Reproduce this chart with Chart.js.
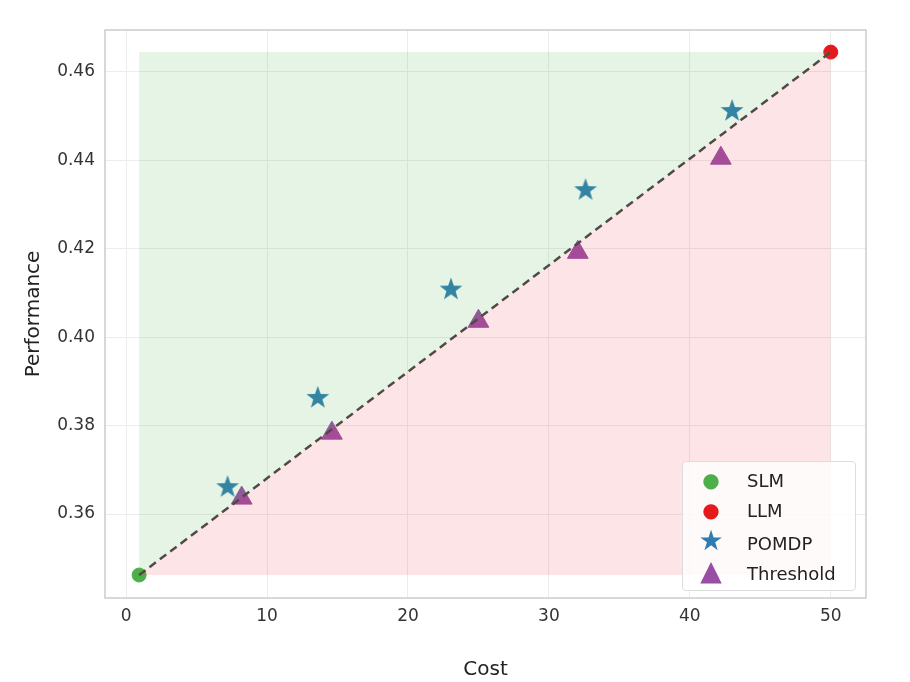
<!DOCTYPE html>
<html><head><meta charset="utf-8">
<script src="https://cdn.jsdelivr.net/npm/chart.js@4/dist/chart.umd.min.js"></script>
<style>
body{margin:0;background:#fff;font-family:"DejaVu Sans",sans-serif}
#wrap{position:relative;width:910px;height:682px}
#legend{position:absolute;left:682px;top:461px;width:172px;height:125px;border:1px solid #ddd;border-radius:4px;background:rgba(255,255,255,0.8);font-size:18px;color:#222}
#legend div{height:29px;line-height:29px;padding-left:10px;margin-top:1px}
#legend span{display:inline-block;width:36px;text-align:center;margin-right:18px}
</style></head><body>
<div id="wrap"><canvas id="c" width="910" height="682"></canvas>
<div id="legend" style="padding-top:3px">
<div><span style="color:#4daf4a;font-size:20px">●</span>SLM</div>
<div><span style="color:#e41a1c;font-size:20px">●</span>LLM</div>
<div><span style="color:#2f7cb0;font-size:28px">★</span>POMDP</div>
<div><span style="color:#984ea3;font-size:28px">▲</span>Threshold</div>
</div></div>
<script>
const slm = [{x: 0.92, y: 0.3462}];
const llm = [{x: 50, y: 0.4645}];
const pomdpCost = [7.2, 13.6, 23.05, 32.6, 43.0];
const pomdpPerf = [0.3663, 0.3865, 0.411, 0.4335, 0.4514];
const threshCost = [8.2, 14.6, 25.0, 32.05, 42.2];
const threshPerf = [0.3636, 0.3783, 0.4036, 0.4192, 0.4405];
const xTicks = [0, 10, 20, 30, 40, 50];
const yTicks = [0.36, 0.38, 0.40, 0.42, 0.44, 0.46];

const diag = [slm[0], llm[0]];
const pts = (xs, ys) => xs.map((x, i) => ({x, y: ys[i]}));

// filled five-point star for the POMDP markers
function makeStar(size, color) {
    const cv = document.createElement('canvas');
    cv.width = cv.height = size;
    const c = cv.getContext('2d'), r = size / 2, ri = r * 0.4;
    c.beginPath();
    for (let i = 0; i < 10; i++) {
        const a = -Math.PI / 2 + i * Math.PI / 5, rr = i % 2 ? ri : r;
        c.lineTo(r + rr * Math.cos(a), r + 1 + rr * Math.sin(a));
    }
    c.closePath(); c.fillStyle = color; c.fill();
    return cv;
}
const star = makeStar(24, '#2f7cb0');

const frame = {
    id: 'frame',
    afterDraw(chart) {
        const a = chart.chartArea, c = chart.ctx;
        c.save(); c.strokeStyle = '#cccccc'; c.lineWidth = 1.5;
        c.strokeRect(a.left, a.top, a.right - a.left, a.bottom - a.top); c.restore();
    }
};

new Chart(document.getElementById('c'), {
    type: 'scatter',
    data: {
        datasets: [
            {data: diag, showLine: true, pointRadius: 0, borderWidth: 0,
             fill: {target: {value: llm[0].y}, above: 'rgba(76,175,80,0.14)', below: 'rgba(76,175,80,0.14)'}},
            {data: diag, showLine: true, pointRadius: 0, borderWidth: 0,
             fill: {target: {value: slm[0].y}, above: 'rgba(244,67,80,0.14)', below: 'rgba(244,67,80,0.14)'}},
            {data: diag, showLine: true, pointRadius: 0, borderColor: '#444', borderWidth: 2.5, borderDash: [8, 5]},
            {label: 'POMDP', data: pts(pomdpCost, pomdpPerf), pointStyle: star, pointRadius: 12},
            {label: 'Threshold', data: pts(threshCost, threshPerf), pointStyle: 'triangle', pointRadius: 12,
             borderColor: '#984ea3', backgroundColor: '#984ea3'},
            {label: 'SLM', data: slm, pointRadius: 7, borderColor: '#4daf4a', backgroundColor: '#4daf4a'},
            {label: 'LLM', data: llm, pointRadius: 7, borderColor: '#e41a1c', backgroundColor: '#e41a1c'}
        ]
    },
    options: {
        responsive: false, animation: false,
        layout: {padding: {top: 30, right: 44, left: 0, bottom: 0}},
        plugins: {legend: {display: false}, tooltip: {enabled: false}},
        scales: {
            x: {type: 'linear', min: -1.5, max: 52.5,
                afterBuildTicks: s => { s.ticks = xTicks.map(v => ({value: v})); },
                afterFit: s => { s.height = 84; },
                grid: {color: '#ececec', drawTicks: false}, border: {display: false},
                ticks: {padding: 8, color: '#333', font: {family: 'DejaVu Sans', size: 17}},
                title: {display: true, text: 'Cost', color: '#222', font: {family: 'DejaVu Sans', size: 20}, padding: {top: 0}}},
            y: {min: 0.341, max: 0.4695,
                afterBuildTicks: s => { s.ticks = yTicks.map(v => ({value: v})); },
                afterFit: s => { s.width = 105; },
                grid: {color: '#ececec', drawTicks: false}, border: {display: false},
                ticks: {padding: 10, color: '#333', font: {family: 'DejaVu Sans', size: 17},
                        callback: v => v.toFixed(2)},
                title: {display: true, text: 'Performance', color: '#222', font: {family: 'DejaVu Sans', size: 20}, padding: {bottom: 0}}}
        }
    },
    plugins: [frame, {
        id: 'titlePos',
        afterLayout(chart) {
            // pull axis titles in closer to the tick labels
            chart.scales.x.options.title.padding = {top: -18};
            chart.scales.y.options.title.padding = {top: 0, bottom: 0};
        },
        beforeDraw(chart) {
            const y = chart.scales.y;
            y.left = 22; // shift the y scale box so its title sits nearer the ticks
        }
    }]
});
</script>
</body></html>
